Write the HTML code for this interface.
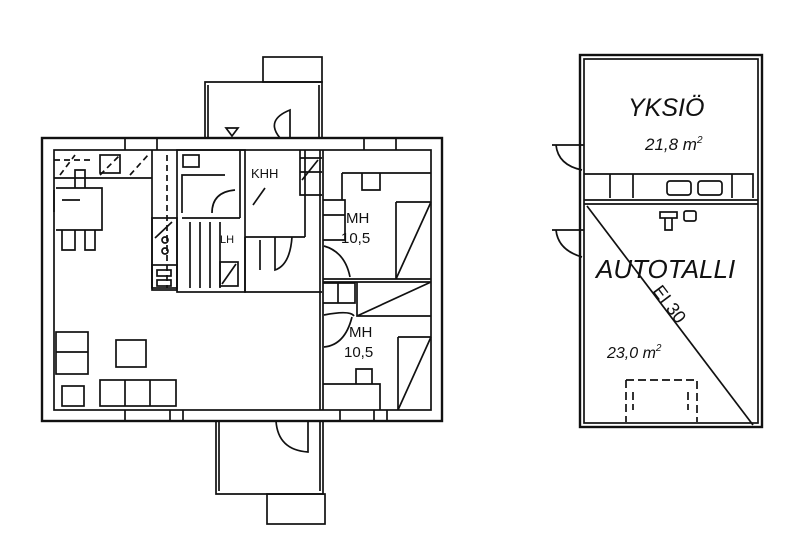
<!DOCTYPE html>
<html><head><meta charset="utf-8"><style>
html,body{margin:0;padding:0;background:#fff;width:799px;height:553px;overflow:hidden}
svg{display:block}
text{font-family:"Liberation Sans",sans-serif;fill:#111}
</style></head><body>
<svg width="799" height="553" viewBox="0 0 799 553" xmlns="http://www.w3.org/2000/svg">
<g fill="none" stroke="#111" stroke-width="1.7">
<rect x="42" y="138" width="400" height="283" stroke-width="2.4"/>
<rect x="54" y="150" width="377" height="260"/>
<path d="M205 138V82H322V138M208 138V85M319 138V85"/>
<rect x="263" y="57" width="59" height="25"/>
<path d="M280 138Q265 120 290 110V138"/>
<path d="M226 128L238 128L232 136Z"/>
<path d="M216 421V494H323V421M219 421V491M320 421V491"/>
<rect x="267" y="494" width="58" height="30"/>
<path d="M276 421Q278 450 308 452V421"/>
<path d="M125 410V421M170 410V421M183 410V421M340 410V421M374 410V421M387 410V421"/>
<path d="M125 138V150M157 138V150M364 138V150M396 138V150M42 190V212M54 190V212"/>
<path d="M54 178H152V288M152 178V150"/>
<rect x="100" y="155" width="20" height="18"/>
<path d="M60 175L75 155M100 175L120 155M130 175L148 155M167 155V288M54 160H90" stroke-dasharray="6 4"/>
<rect x="152" y="218" width="25" height="70"/>
<rect x="152" y="265" width="25" height="25"/>
<circle cx="165" cy="240" r="3"/><circle cx="165" cy="251" r="3"/>
<rect x="157" y="270" width="14" height="6"/><rect x="157" y="280" width="14" height="6"/>
<path d="M155 238L172 222"/>
<rect x="177" y="150" width="68" height="142"/>
<path d="M182 218H240M182 213V175H225M212 213Q212 192 235 190M240 218V150"/>
<rect x="183" y="155" width="16" height="12"/>
<path d="M190 222V288M200 222V288M210 222V288M220 222V288"/>
<rect x="220" y="262" width="18" height="24"/>
<path d="M222 284L236 264"/>
<path d="M245 237H305M305 150V237M300 150V195H322M245 237V292H322"/>
<path d="M253 205L265 188M260 240V270M275 237V270Q290 265 292 237"/>
<path d="M300 158H322M300 172H322M302 180L318 160"/>
<path d="M323 150V410M320 150V410"/>
<path d="M323 279H431M323 282H431"/>
<path d="M342 173H431M342 173V200M362 173V190H380V173M323 200H345V240H323M323 215H345"/>
<path d="M396 202H431M396 202V279L431 202"/>
<path d="M357 282V316H431M357 316L431 282M323 283H355V303H323M338 283V303"/>
<path d="M324 246Q345 252 350 277"/>
<path d="M324 315Q350 310 354 316M324 347Q345 345 352 317"/>
<path d="M398 337H431M398 337V410L431 337M323 384H380V410M356 384V369H372V384"/>
<path d="M56 188H102V230H56M62 200H80M62 230V250H75V230M85 230V250H95V230M75 188V170H85V188"/>
<rect x="56" y="332" width="32" height="42"/>
<path d="M56 352H88"/>
<rect x="116" y="340" width="30" height="27"/>
<rect x="62" y="386" width="22" height="20"/>
<rect x="100" y="380" width="76" height="26"/>
<path d="M125 380V406M150 380V406"/>
<rect x="580" y="55" width="182" height="372" stroke-width="2.4"/>
<rect x="584" y="59" width="174" height="364"/>
<path d="M584 200H758M584 204H758"/>
<path d="M584 174H753V198M610 174V198M633 174V198M732 174V198"/>
<rect x="667" y="181" width="24" height="14" rx="3"/>
<rect x="698" y="181" width="24" height="14" rx="3"/>
<path d="M587 206L753 425"/>
<path d="M626 380H697V422M626 380V422M633 392V410M688 392V410" stroke-dasharray="8 4"/>
<rect x="660" y="212" width="17" height="6"/><path d="M665 218V230H672V218"/>
<rect x="684" y="211" width="12" height="10" rx="2"/>
<path d="M552 145H584M556 145Q558 165 582 170M552 230H584M556 230Q558 250 582 257"/>
</g>
<text x="628" y="116" font-size="25" font-style="italic">YKSIÖ</text>
<text x="645" y="150" font-size="17" font-style="italic">21,8 m<tspan font-size="10" dy="-7">2</tspan></text>
<text x="596" y="278" font-size="26" font-style="italic">AUTOTALLI</text>
<text x="607" y="358" font-size="16" font-style="italic">23,0 m<tspan font-size="10" dy="-7">2</tspan></text>
<text x="0" y="0" font-size="18" transform="translate(652,291) rotate(53)">EI 30</text>
<text x="251" y="178" font-size="13">KHH</text>
<text x="220" y="243" font-size="11">LH</text>
<text x="346" y="223" font-size="15">MH</text>
<text x="341" y="243" font-size="15">10,5</text>
<text x="349" y="337" font-size="15">MH</text>
<text x="344" y="357" font-size="15">10,5</text>
</svg>
</body></html>
